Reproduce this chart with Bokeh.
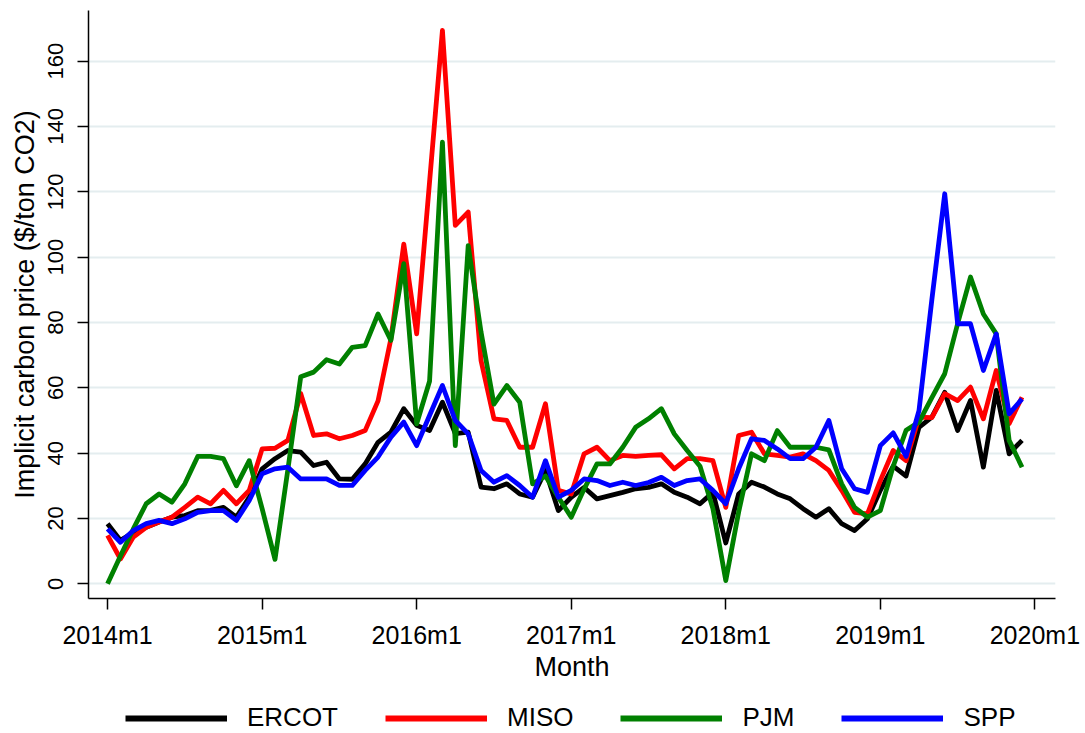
from bokeh.plotting import figure
from bokeh.layouts import column
from bokeh.models import Range1d, FixedTicker, Legend, LegendItem
from bokeh.embed import file_html
from bokeh.resources import INLINE

months = [f"{y}m{m}" for y in range(2014, 2020) for m in range(1, 13)]
tick_labels = ["2014m1", "2015m1", "2016m1", "2017m1", "2018m1", "2019m1", "2020m1"]
y_ticks = [0, 20, 40, 60, 80, 100, 120, 140, 160]

ercot = [18.4, 13.3, 15.7, 17.3, 18.9, 20.4, 20.9, 22.4, 22.5, 23.4, 20.4, 26.5,
         35.2, 38.3, 40.8, 40.3, 36.2, 37.2, 32.1, 32.0, 36.7, 43.3, 46.4, 53.6,
         48.5, 46.9, 55.6, 46.0, 46.4, 29.6, 29.1, 30.6, 27.5, 26.5, 34.7, 22.4,
         26.5, 29.5, 26.0, 27.0, 28.0, 29.1, 29.5, 30.6, 28.0, 26.5, 24.5, 28.0,
         12.5, 27.5, 31.1, 29.6, 27.5, 26.0, 23.0, 20.4, 23.0, 18.4, 16.3, 19.9,
         28.6, 36.0, 33.0, 47.9, 51.0, 58.6, 46.9, 56.1, 35.7, 59.2, 39.8, 43.9]
miso = [14.8, 7.6, 14.3, 17.3, 18.9, 20.4, 23.4, 26.5, 24.5, 28.6, 24.5, 28.6,
        41.3, 41.5, 43.9, 58.2, 45.4, 45.9, 44.4, 45.4, 46.9, 56.0, 75.0, 104.0,
        76.5, 123.0, 169.4, 109.7, 113.8, 68.3, 50.5, 50.0, 41.8, 41.8, 55.1, 28.6,
        27.5, 39.8, 41.8, 37.7, 39.3, 39.0, 39.3, 39.5, 35.2, 38.3, 38.3, 37.7,
        23.4, 45.4, 46.4, 39.8, 39.3, 38.8, 39.8, 37.7, 34.7, 28.6, 21.9, 21.4,
        31.6, 40.8, 37.7, 51.0, 50.9, 58.2, 56.1, 60.2, 50.5, 65.3, 49.0, 57.1]
pjm = [0.0, 8.5, 16.8, 24.5, 27.5, 25.0, 30.6, 39.0, 39.0, 38.3, 30.0, 37.7,
       23.0, 7.5, 35.0, 63.4, 64.8, 68.6, 67.3, 72.4, 72.9, 82.6, 74.5, 98.0,
       49.0, 62.0, 135.2, 42.3, 103.5, 77.0, 55.0, 60.7, 55.6, 30.6, 33.0, 26.5,
       20.4, 29.0, 36.7, 36.7, 41.8, 47.9, 50.5, 53.6, 45.9, 40.8, 36.0, 23.0,
       1.0, 22.0, 39.8, 37.7, 46.9, 41.8, 41.8, 41.8, 41.0, 30.6, 23.4, 20.4,
       22.4, 36.0, 47.0, 49.5, 57.0, 64.3, 79.6, 93.9, 82.6, 76.5, 43.9, 35.7]
spp = [16.8, 12.7, 16.3, 18.4, 19.4, 18.4, 19.9, 21.9, 22.4, 22.4, 19.4, 25.5,
       33.7, 35.2, 35.7, 32.1, 32.1, 32.1, 30.1, 30.1, 34.7, 38.8, 44.9, 49.5,
       42.3, 51.5, 60.7, 50.0, 45.9, 34.7, 31.1, 33.1, 30.1, 26.5, 37.7, 26.5,
       28.6, 32.1, 31.6, 30.1, 31.1, 30.1, 31.0, 32.6, 30.1, 31.6, 32.1, 28.6,
       24.5, 35.2, 44.4, 43.9, 41.3, 38.3, 38.3, 41.8, 50.0, 35.2, 29.1, 28.0,
       42.3, 46.2, 39.0, 53.0, 87.0, 119.4, 79.6, 79.6, 65.3, 76.5, 52.0, 56.6]

series_names = ["ERCOT", "MISO", "PJM", "SPP"]
series_values = [ercot, miso, pjm, spp]
colors = ["#000000", "#ff0000", "#008000", "#0000ff"]

x = list(range(len(months)))
FONT = "Liberation Sans"

p = figure(frame_width=967, frame_height=588, output_backend="svg", toolbar_location=None,
           x_range=Range1d(-1.48, 73.6), y_range=Range1d(-4.5, 175.5),
           min_border_left=88, min_border_right=29, min_border_top=10, min_border_bottom=82)
p.outline_line_color = None
p.background_fill_color = "white"
p.border_fill_color = "white"

p.xgrid.visible = False
p.ygrid.ticker = FixedTicker(ticks=y_ticks)
p.ygrid.grid_line_color = "#e4edef"
p.ygrid.grid_line_width = 2

for name, vals, col in zip(series_names, series_values, colors):
    p.line(x, vals, line_color=col, line_width=4.8, line_join="round")

# x axis
p.xaxis.ticker = FixedTicker(ticks=[12 * i for i in range(len(tick_labels))])
p.xaxis.major_label_overrides = {12 * i: lab for i, lab in enumerate(tick_labels)}
p.xaxis.axis_label = "Month"
for ax in (p.xaxis[0], p.yaxis[0]):
    ax.axis_line_color = "#000000"
    ax.axis_line_width = 1.5
    ax.major_tick_line_color = "#000000"
    ax.major_tick_line_width = 1.5
    ax.major_tick_out = 11
    ax.major_tick_in = 0
    ax.minor_tick_out = 0
    ax.minor_tick_in = 0
    ax.major_label_text_font = FONT
    ax.major_label_text_color = "#000000"
    ax.axis_label_text_font = FONT
    ax.axis_label_text_font_style = "normal"
    ax.axis_label_text_color = "#000000"

p.xaxis.major_label_text_font_size = "25px"
p.xaxis.major_label_standoff = 11
p.xaxis.axis_label_text_font_size = "27px"
p.xaxis.axis_label_standoff = 0

p.yaxis.ticker = FixedTicker(ticks=y_ticks)
p.yaxis.major_label_orientation = "vertical"
p.yaxis.major_label_text_font_size = "22px"
p.yaxis.major_label_standoff = 14
p.yaxis.axis_label = "Implicit carbon price ($/ton CO2)"
p.yaxis.axis_label_text_font_size = "27px"
p.yaxis.axis_label_standoff = 6

# legend strip below the chart
leg_fig = figure(width=1084, height=52, output_backend="svg", toolbar_location=None,
                 x_axis_location=None, y_axis_location=None,
                 x_range=Range1d(0, 1), y_range=Range1d(0, 1), min_border=0)
leg_fig.outline_line_color = None
leg_fig.xgrid.visible = False
leg_fig.ygrid.visible = False
items = []
for name, col in zip(series_names, colors):
    # off-screen points: only the legend swatch is visible
    r = leg_fig.line([-5, -4], [-5, -5], line_color=col, line_width=6)
    items.append(LegendItem(label=name, renderers=[r]))

legend = Legend(items=items, orientation="horizontal", location=(37, 3))
legend.glyph_width = 102
legend.glyph_height = 30
legend.label_standoff = 20
legend.spacing = 47
legend.padding = 0
legend.margin = 0
legend.border_line_color = None
legend.background_fill_alpha = 0
legend.label_text_font = FONT
legend.label_text_font_size = "26px"
legend.label_text_color = "#000000"
leg_fig.add_layout(legend)

layout = column(p, leg_fig, spacing=0)
open("out.html", "w").write(file_html(layout, INLINE))
